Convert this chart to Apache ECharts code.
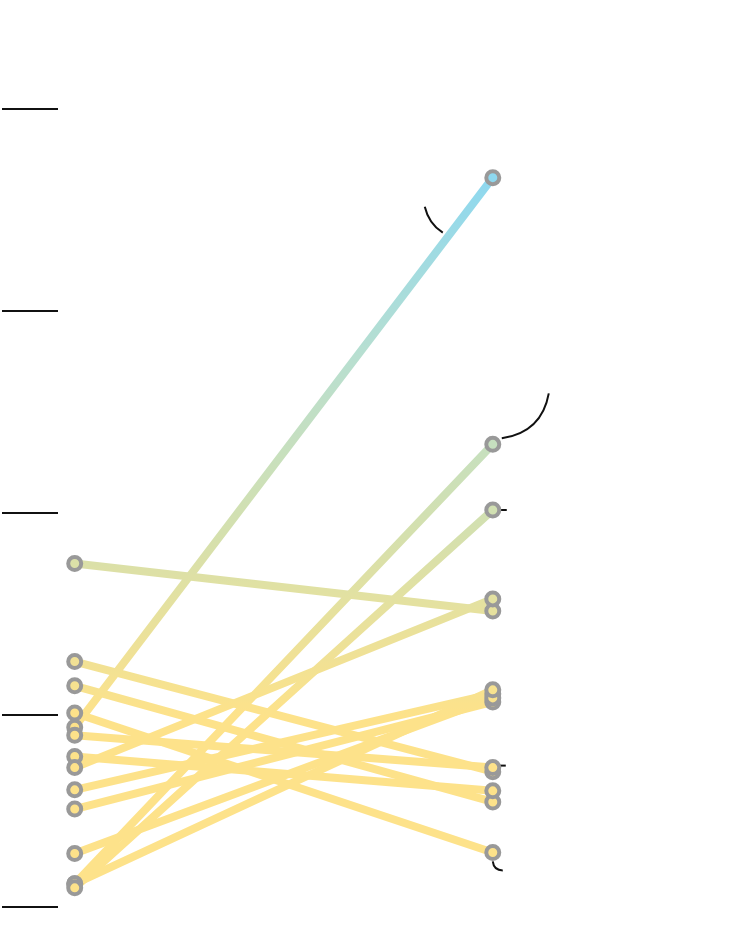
<!DOCTYPE html>
<html>
<head>
<meta charset="utf-8">
<style>
  html, body { margin: 0; padding: 0; background: #fff; }
  #chart { width: 750px; height: 928px; }
</style>
<script src="https://cdn.jsdelivr.net/npm/echarts@6/dist/echarts.min.js"></script>
</head>
<body>
<div id="chart"></div>
<script>
// 左右两端的取值（每条线一个对象）
const leftValues  = [35.0, 25.3, 22.9, 20.2, 18.8, 18.0, 15.9, 14.8, 12.6, 10.7, 6.3, 3.3, 3.3, 2.9];
const rightValues = [30.3, 14.4, 11.4, 6.4, 73.2, 14.8, 12.5, 31.5, 22.1, 21.3, 21.7, 46.8, 22.5, 40.3];
const xPositions = [0, 1];
const yRange = [1, 80];

// 标注线：挂在右端某个点上，偏移量为像素
const annotations = [
  { index: 4,  path: [[-68, 29], [-64, 46], [-50, 55]] },
  { index: 11, path: [[9, -6], [49, -12], [56, -51]] },
  { index: 13, path: [[7, 0], [10, 0], [14, 0]] },
  { index: 5,  path: [[7, -2], [10, -2], [13, -2]] },
  { index: 3,  path: [[0, 9], [1, 18], [10, 18]] }
];

const chart = echarts.init(document.getElementById('chart'));

const lineSeries = leftValues.map((l, i) => ({
  type: 'line',
  data: [[xPositions[0], l], [xPositions[1], rightValues[i]]],
  showSymbol: false,
  silent: true,
  z: 2,
  lineStyle: { width: 8 }
}));

const points = [];
leftValues.forEach((l, i) => {
  points.push([xPositions[0], l]);
  points.push([xPositions[1], rightValues[i]]);
});

chart.setOption({
  animation: false,
  grid: { left: 58, top: 109, bottom: 21, width: 602 },
  xAxis: { type: 'value', min: -0.04, max: 1.4, show: false },
  yAxis: {
    type: 'value',
    min: yRange[0],
    max: yRange[1],
    splitNumber: 4,
    axisLine: { show: false, onZero: false },
    axisLabel: { show: false },
    splitLine: { show: false },
    axisTick: { show: true, length: 56, lineStyle: { color: '#111', width: 2 } }
  },
  visualMap: {
    type: 'continuous',
    show: false,
    dimension: 1,
    min: 20,
    max: 73,
    inRange: { color: ['#fde28a', '#d5e0ad', '#b8dfd0', '#8ed8ef'] }
  },
  series: lineSeries.concat([{
    type: 'scatter',
    data: points,
    symbol: 'circle',
    symbolSize: 13,
    z: 3,
    silent: true,
    itemStyle: { borderColor: '#999', borderWidth: 4, opacity: 1 }
  }])
});

// 标注曲线
const graphics = annotations.map(a => {
  const p = chart.convertToPixel({ gridIndex: 0 }, [xPositions[1], rightValues[a.index]]);
  const pt = a.path.map(o => [p[0] + o[0], p[1] + o[1]]);
  return {
    type: 'bezierCurve',
    shape: { x1: pt[0][0], y1: pt[0][1], cpx1: pt[1][0], cpy1: pt[1][1], x2: pt[2][0], y2: pt[2][1] },
    style: { stroke: '#111', lineWidth: 2, fill: null },
    z: 1
  };
});
chart.setOption({ graphic: graphics });
</script>
</body>
</html>
